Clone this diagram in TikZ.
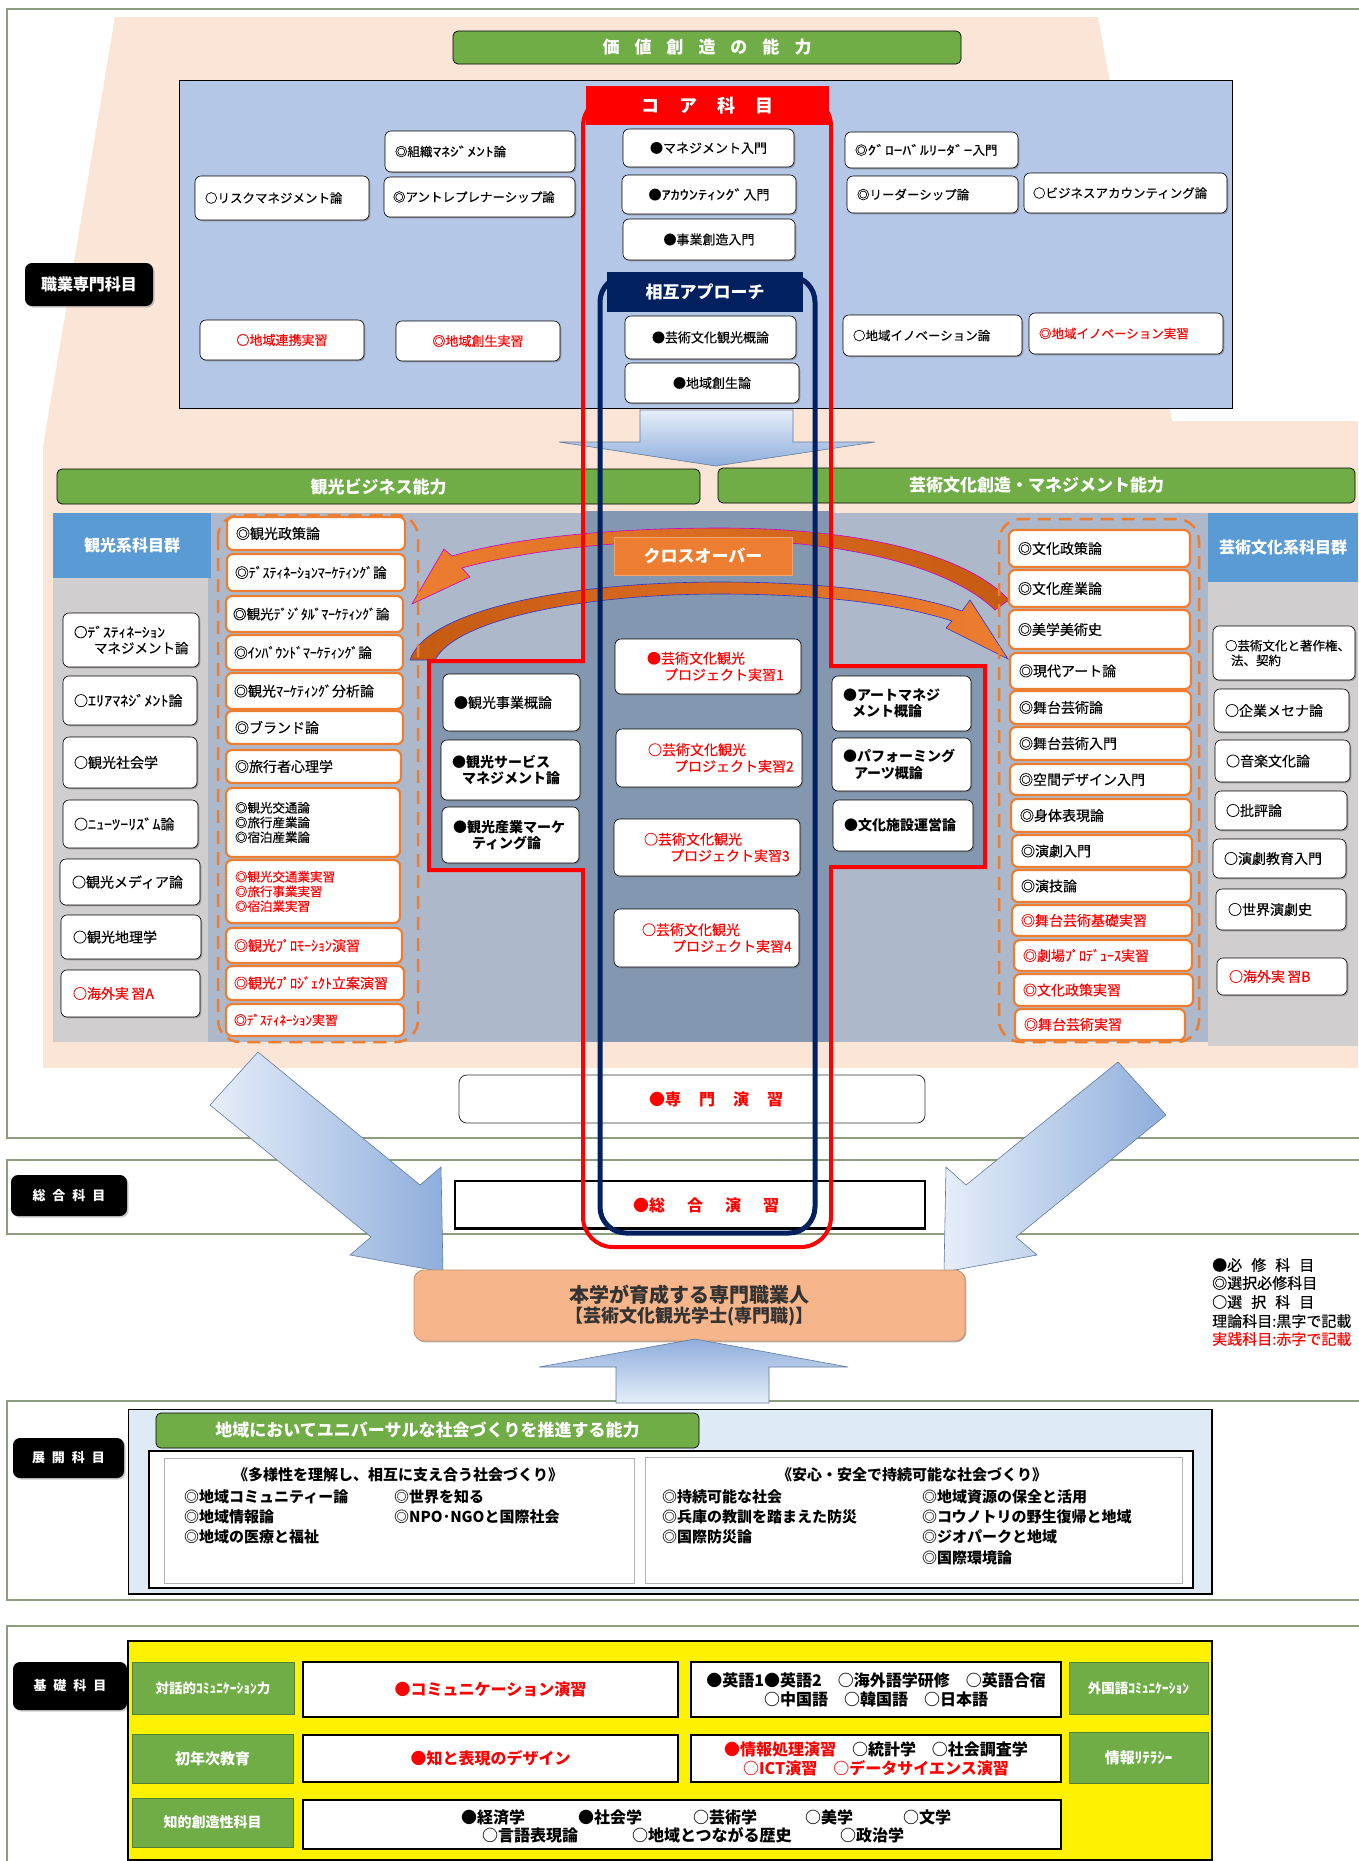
\documentclass[tikz,border=0pt]{standalone}
\usepackage{fontspec}
\setmainfont{Noto Sans CJK JP}[UprightFeatures={FakeBold=0.3}]
\usetikzlibrary{shadows}
\definecolor{peach}{HTML}{FBE5D6}
\definecolor{topblue}{HTML}{B4C7E7}
\definecolor{bgray}{HTML}{ADB9CA}
\definecolor{dgray}{HTML}{8497B0}
\definecolor{lgray}{HTML}{D0CECE}
\definecolor{gbar}{HTML}{70AD47}
\definecolor{bhead}{HTML}{5B9BD5}
\definecolor{oran}{HTML}{ED7D31}
\definecolor{navy}{HTML}{002060}
\definecolor{framec}{HTML}{8C9C7E}
\definecolor{goalc}{HTML}{F6B58A}
\definecolor{pale}{HTML}{DEEBF7}
\definecolor{brn}{HTML}{C55A11}
\definecolor{mag}{HTML}{CC00CC}
\definecolor{arrl}{HTML}{E6EEF9}
\definecolor{arrd}{HTML}{8EAEDC}
\definecolor{darktxt}{HTML}{333333}
\newcommand{\fs}[1]{\fontsize{#1}{\fpeval{#1*1.18}}\selectfont}
\newcommand{\hw}[2][1.4]{\scalebox{#1}[1]{#2}}
\newcommand{\bx}[7]{%
  \pgfmathsetmacro{\bxX}{(#3+#5)/2}\pgfmathsetmacro{\bxY}{(#4+#6)/2}%
  \pgfmathsetmacro{\bxW}{#5-#3}\pgfmathsetmacro{\bxH}{#6-#4}%
  \node[#2, minimum width=\bxW pt, minimum height=\bxH pt] (#1) at (\bxX,\bxY) {#7};}
\newcommand{\bxl}[8][10]{%
  \pgfmathsetmacro{\bxX}{(#4+#6)/2}\pgfmathsetmacro{\bxY}{(#5+#7)/2}%
  \pgfmathsetmacro{\bxT}{#6-#4-2*#1}\pgfmathsetmacro{\bxH}{#7-#5}%
  \node[#3, minimum height=\bxH pt, text width=\bxT pt, inner xsep=#1pt, align=left] (#2) at (\bxX,\bxY) {#8};}
\begin{document}
\begin{tikzpicture}[x=1pt,y=-1pt,
  every node/.style={inner sep=0pt, font=\fs{13}},
  shad/.style={drop shadow={shadow xshift=1.3pt,shadow yshift=-1.3pt,fill=black!55,opacity=0.55}},
  wbox/.style={draw=black, line width=0.6pt, fill=white, rounded corners=6pt, shad},
  obox/.style={draw=oran, line width=2.2pt, fill=white, rounded corners=6pt, font=\fs{14}},
  rt/.style={text=red},
  greenbar/.style={fill=gbar, draw=black, line width=0.7pt, rounded corners=5pt, text=white, font=\fs{17}\bfseries},
  bluehead/.style={fill=bhead, text=white, font=\fs{16}\bfseries},
  blab/.style={fill=black, text=white, rounded corners=7pt, font=\fs{13}\bfseries, drop shadow={shadow xshift=1.5pt,shadow yshift=-1.5pt,fill=black!40}},
  glab/.style={fill=gbar, draw=gbar!75!black, line width=1pt, text=white, font=\fs{14}\bfseries},
  kbox/.style={draw=black, line width=1.6pt, fill=white},
  bigarrow/.style={left color=arrl, right color=arrd, draw=arrd!70!black, line width=0.6pt},
  frameline/.style={draw=framec, line width=1.3pt},
  ogroup/.style={draw=oran, line width=2.5pt, dash pattern=on 13pt off 8pt, rounded corners=22pt},
  txt/.style={font=\fs{15}\bfseries, anchor=west}
]
\useasboundingbox (0,0) rectangle (1358,1861);
\fill[white] (0,0) rectangle (1358,1861);

% ---------- frames ----------
\draw[frameline] (1400,9) -- (7,9) -- (7,1138) -- (1400,1138);
\draw[frameline] (1400,1160) -- (7,1160) -- (7,1234) -- (1400,1234);
\draw[frameline] (1400,1401) -- (7,1401) -- (7,1600) -- (1400,1600);
\draw[frameline] (1400,1626) -- (7,1626) -- (7,1870);

% ---------- peach ----------
\fill[peach] (115,17) -- (1098,17) -- (1172,421) -- (1358,421) -- (1358,1068) -- (43,1068) -- (43,447) -- cycle;

% ---------- top section ----------
\bx{gtop}{greenbar}{453}{31}{961}{64}{価\hspace{15pt}値\hspace{15pt}創\hspace{15pt}造\hspace{15pt}の\hspace{15pt}能\hspace{15pt}力}
\path[fill=topblue, draw=black, line width=0.8pt] (179,80) rectangle (1232,408);

% down arrow below blue box
\path[top color=arrl, bottom color=arrd, draw=arrd!70!black, line width=0.6pt] (640,410) -- (793,410) -- (793,442) -- (875,442) -- (716,466) -- (559,442) -- (640,442) -- cycle;

% green bars middle
\bx{gb1}{greenbar}{57}{469}{700}{504}{観光ビジネス能力}
\bx{gb2}{greenbar}{718}{468}{1355}{503}{芸術文化創造・マネジメント能力}

% gray panels
\fill[lgray] (53,513) rectangle (208,1042);
\fill[bgray] (208,513) rectangle (1208,1042);
\fill[lgray] (1208,513) rectangle (1358,1046);
\fill[dgray] (583,511) rectangle (831,1042);
\fill[dgray] (429,661) rectangle (583,870);
\fill[dgray] (831,666) rectangle (985,867);

% curved arrows
\path[left color=oran, right color=brn, draw=mag, line width=0.6pt]
  (1009,600) .. controls (960,548) and (840,528) .. (720,528)
  .. controls (600,528) and (505,540) .. (452,556) -- (444,549) -- (412,604) -- (470,577) -- (462,568)
  .. controls (520,552) and (610,540) .. (720,540)
  .. controls (830,540) and (945,562) .. (995,610) -- cycle;
\path[left color=brn, right color=oran, draw=blue!60!gray, line width=0.6pt]
  (410,660) .. controls (425,612) and (560,582) .. (720,582)
  .. controls (840,582) and (920,596) .. (962,611) -- (970,600) -- (1008,659) -- (946,628) -- (952,621)
  .. controls (900,604) and (820,594) .. (720,594)
  .. controls (580,594) and (455,620) .. (435,660) -- cycle;

% special exercise boxes (below lines)
\bx{senmon}{draw=black!80, line width=0.8pt, fill=white, rounded corners=8pt}{459}{1075}{925}{1123}{}
\node[font=\fs{16}\bfseries, text=red] (senmont) at (716,1099) {●専\hspace{18pt}門\hspace{18pt}演\hspace{18pt}習};
\bx{sougou}{draw=black, line width=1.3pt, fill=white}{455}{1181}{925}{1228}{}
\draw[line width=2.5pt] (sougou.south west) -- (sougou.south east);
\node[font=\fs{16}\bfseries, text=red] (sougout) at (706,1205) {●総\hspace{22pt}合\hspace{22pt}演\hspace{22pt}習};

% red & navy outlines
\draw[red, line width=4pt] (620,96) [rounded corners=30pt] -- (583,96) -- (583,200) [sharp corners] -- (583,661) -- (429,661) -- (429,870) -- (583,870) -- (583,950) [rounded corners=30pt] -- (583,1247) -- (831,1247) -- (831,1150) [sharp corners] -- (831,867) -- (985,867) -- (985,666) -- (831,666) -- (831,200) [rounded corners=30pt] -- (831,96) -- (795,96);
\draw[navy, line width=5pt, rounded corners=26pt] (640,276) -- (600,276) -- (600,1233) -- (815,1233) -- (815,276) -- (775,276);

% headers on the lines
\bx{core}{fill=red, text=white, font=\fs{18}\bfseries}{586}{86}{829}{125}{コ\hspace{20pt}ア\hspace{20pt}科\hspace{20pt}目}
\bx{sogo}{fill=navy, text=white, font=\fs{17}\bfseries}{607}{272}{803}{312}{相互アプローチ}

% core boxes
\bx{c1}{wbox}{623}{129}{794}{167}{●マネジメント入門}
\bx{c2}{wbox}{622}{175}{796}{214}{●\hw{ｱｶｳﾝﾃｨﾝｸﾞ}入門}
\bx{c3}{wbox}{623}{219}{795}{260}{●事業創造入門}
\bx{c4}{wbox}{625}{316}{796}{359}{●芸術文化観光概論}
\bx{c5}{wbox}{625}{363}{799}{403}{●地域創生論}

% top left boxes
\bxl[10]{l1}{wbox,font=\fs{12.5}}{195}{176}{369}{220}{○リスクマネジメント論}
\bxl[10]{l2}{wbox,font=\fs{12.5}}{385}{131}{575}{172}{◎組織\hw{ﾏﾈｼﾞﾒﾝﾄ}論}
\bxl[9]{l3}{wbox,font=\fs{12.5}}{384}{177}{575}{217}{◎アントレプレナーシップ論}
\bx{l4}{wbox,rt,font=\fs{13}}{200}{320}{364}{360}{○地域連携実習}
\bx{l5}{wbox,rt,font=\fs{13}}{396}{321}{560}{361}{◎地域創生実習}
% top right boxes
\bxl[10]{r1}{wbox,font=\fs{12.5}}{845}{132}{1018}{168}{◎\hw{ｸﾞﾛｰﾊﾞﾙﾘｰﾀﾞｰ}入門}
\bxl[10]{r2}{wbox,font=\fs{12.5}}{847}{176}{1018}{213}{◎リーダーシップ論}
\bxl[9]{r3}{wbox,font=\fs{12.5}}{1024}{173}{1227}{213}{○ビジネスアカウンティング論}
\bxl[10]{r4}{wbox,font=\fs{12.5}}{843}{315}{1022}{356}{○地域イノベーション論}
\bxl[10]{r5}{wbox,rt,font=\fs{12.5}}{1029}{313}{1223}{354}{◎地域イノベーション実習}

% ---------- middle section ----------
\bx{hk}{bluehead}{53}{513}{211}{578}{観光系科目群}
\bx{hg}{bluehead}{1208}{513}{1358}{582}{芸術文化系科目群}
\bx{cross}{fill=oran, draw=oran!70!white, line width=0.6pt, text=white, font=\fs{17}\bfseries}{614}{537}{792}{575}{クロスオーバー}

\draw[ogroup] (218,515) rectangle (418,1042);
\draw[ogroup] (999,519) rectangle (1199,1042);

% left orange column
\bxl[9]{k1}{obox}{227}{517}{405}{550}{◎観光政策論}
\bxl[8]{k2}{obox,font=\fs{13.8}}{227}{554}{405}{591}{◎ﾃﾞｽﾃｨﾈｰｼｮﾝﾏｰｹﾃｨﾝｸﾞ論}
\bxl[7]{k3}{obox,font=\fs{13.6}}{226}{596}{403}{632}{◎観光ﾃﾞｼﾞﾀﾙﾞﾏｰｹﾃｨﾝｸﾞ論}
\bxl[8]{k4}{obox,font=\fs{13.8}}{226}{635}{403}{670}{◎ｲﾝﾊﾞｳﾝﾄﾞﾏｰｹﾃｨﾝｸﾞ論}
\bxl[8]{k5}{obox}{226}{673}{403}{709}{◎観光ﾏｰｹﾃｨﾝｸﾞ分析論}
\bxl[9]{k6}{obox}{226}{711}{403}{744}{◎ブランド論}
\bxl[9]{k7}{obox}{226}{750}{401}{783}{◎旅行者心理学}
\bxl[9]{k8}{obox,font=\fs{12.5}}{226}{788}{400}{857}{◎観光交通論\\◎旅行産業論\\◎宿泊産業論}
\bxl[9]{k9}{obox,rt,font=\fs{12.5}}{226}{860}{400}{923}{◎観光交通業実習\\◎旅行事業実習\\◎宿泊業実習}
\bxl[8]{k10}{obox,rt}{226}{928}{402}{963}{◎観光ﾌﾟﾛﾓｰｼｮﾝ演習}
\bxl[8]{k11}{obox,rt}{226}{966}{404}{1000}{◎観光ﾌﾟﾛｼﾞｪｸﾄ立案演習}
\bxl[8]{k12}{obox,rt,font=\fs{13}}{226}{1004}{404}{1036}{◎ﾃﾞｽﾃｨﾈｰｼｮﾝ実習}

% left ○ column
\bxl[11]{o1}{wbox,font=\fs{13.5}}{63}{613}{199}{667}{○\hw[1.15]{ﾃﾞｽﾃｨﾈｰｼｮﾝ}\\\hspace*{20pt}マネジメント論}
\bxl[11]{o2}{wbox,font=\fs{14}}{63}{676}{197}{725}{○\hw[1.15]{ｴﾘｱﾏﾈｼﾞﾒﾝﾄ}論}
\bxl[11]{o3}{wbox,font=\fs{14}}{63}{737}{197}{788}{○観光社会学}
\bxl[11]{o4}{wbox,font=\fs{14}}{63}{800}{198}{848}{○\hw[1.15]{ﾆｭｰﾂｰﾘｽﾞﾑ}論}
\bxl[12]{o5}{wbox,font=\fs{14}}{60}{859}{200}{905}{○観光メディア論}
\bxl[12]{o6}{wbox,font=\fs{14}}{61}{915}{201}{959}{○観光地理学}
\bxl[12]{o7}{wbox,rt,font=\fs{14}}{61}{970}{200}{1017}{○海外実\,習A}

% red bump left
\bxl[11]{m1}{wbox,font=\fs{14}}{443}{674}{580}{731}{●観光事業概論}
\bxl[11]{m2}{wbox,font=\fs{14}\bfseries}{441}{740}{580}{800}{●観光サービス\\\hspace*{10pt}マネジメント論}
\bxl[11]{m3}{wbox,font=\fs{14}\bfseries}{442}{807}{579}{863}{●観光産業マーケ\\\hspace*{19pt}ティング論}

% center project boxes
\bxl[32]{p1}{wbox,rt,font=\fs{14}}{615}{639}{801}{694}{●芸術文化観光\\\hspace*{17pt}プロジェクト実習1}
\bxl[32]{p2}{wbox,rt,font=\fs{14}}{616}{729}{802}{787}{○芸術文化観光\\\hspace*{26pt}プロジェクト実習2}
\bxl[30]{p3}{wbox,rt,font=\fs{14}}{614}{819}{800}{876}{○芸術文化観光\\\hspace*{26pt}プロジェクト実習3}
\bxl[28]{p4}{wbox,rt,font=\fs{14}}{614}{909}{799}{967}{○芸術文化観光\\\hspace*{30pt}プロジェクト実習4}

% red bump right
\bxl[11]{a1}{wbox,font=\fs{14}\bfseries}{832}{676}{971}{731}{●アートマネジ\\\hspace*{9pt}メント概論}
\bxl[11]{a2}{wbox,font=\fs{14}\bfseries}{832}{738}{971}{791}{●パフォーミング\\\hspace*{11pt}アーツ概論}
\bxl[11]{a3}{wbox,font=\fs{14}\bfseries}{833}{800}{973}{851}{●文化施設運営論}

% right orange column
\bxl[9]{q1}{obox}{1009}{530}{1190}{567}{◎文化政策論}
\bxl[9]{q2}{obox}{1009}{570}{1190}{607}{◎文化産業論}
\bxl[9]{q3}{obox}{1009}{610}{1190}{649}{◎美学美術史}
\bxl[9]{q4}{obox}{1010}{653}{1191}{689}{◎現代アート論}
\bxl[9]{q5}{obox}{1010}{691}{1191}{724}{◎舞台芸術論}
\bxl[9]{q6}{obox}{1010}{727}{1191}{760}{◎舞台芸術入門}
\bxl[9]{q7}{obox}{1010}{764}{1191}{795}{◎空間デザイン入門}
\bxl[9]{q8}{obox}{1011}{799}{1191}{832}{◎身体表現論}
\bxl[9]{q9}{obox}{1012}{835}{1192}{867}{◎演劇入門}
\bxl[9]{q10}{obox}{1012}{870}{1191}{902}{◎演技論}
\bxl[9]{q11}{obox,rt}{1012}{905}{1192}{936}{◎舞台芸術基礎実習}
\bxl[9]{q12}{obox,rt}{1014}{940}{1192}{971}{◎劇場ﾌﾟﾛﾃﾞｭｰｽ実習}
\bxl[9]{q13}{obox,rt}{1014}{974}{1193}{1006}{◎文化政策実習}
\bxl[9]{q14}{obox,rt}{1015}{1009}{1185}{1040}{◎舞台芸術実習}

% right ○ column
\bxl[12]{g1}{wbox,font=\fs{12.5}}{1213}{626}{1355}{680}{○芸術文化と著作権、\\\hspace*{6pt}法、契約}
\bxl[11]{g2}{wbox,font=\fs{14}}{1214}{689}{1349}{732}{○企業メセナ論}
\bxl[11]{g3}{wbox,font=\fs{14}}{1215}{740}{1350}{782}{○音楽文化論}
\bxl[11]{g4}{wbox,font=\fs{14}}{1215}{791}{1347}{830}{○批評論}
\bxl[11]{g5}{wbox,font=\fs{14}}{1213}{839}{1346}{878}{○演劇教育入門}
\bxl[12]{g6}{wbox,font=\fs{14}}{1216}{889}{1346}{930}{○世界演劇史}
\bxl[12]{g7}{wbox,rt,font=\fs{14}}{1217}{958}{1347}{995}{○海外実\,習B}

% ---------- labels ----------
\bx{lab1}{blab,font=\fs{16}\bfseries}{25}{263}{153}{306}{職業専門科目}
\bx{lab2}{blab}{11}{1175}{127}{1216}{総\hspace{7pt}合\hspace{7pt}科\hspace{7pt}目}
\bx{lab3}{blab}{13}{1438}{124}{1478}{展\hspace{7pt}開\hspace{7pt}科\hspace{7pt}目}
\bx{lab4}{blab}{13}{1662}{127}{1710}{基\hspace{7pt}礎\hspace{7pt}科\hspace{7pt}目}

% ---------- big arrows and goal ----------
\path[bigarrow] (258,1052) -- (420,1185) -- (441,1167) -- (443,1272) -- (350,1255) -- (371,1237) -- (210,1105) -- cycle;
\path[bigarrow] (1118,1062) -- (966,1185) -- (946,1167) -- (944,1272) -- (1037,1255) -- (1016,1237) -- (1166,1115) -- cycle;
\bx{goal}{fill=goalc, draw=goalc!80!black, line width=0.8pt, rounded corners=10pt, shad, text=darktxt, align=center}{414}{1270}{965}{1341}{{\fs{20}\bfseries 本学が育成する専門職業人}\\[1pt]{\fs{18}\bfseries 【芸術文化観光学士(専門職)】}}
\path[top color=arrd, bottom color=arrl, draw=arrd!70!black, line width=0.6pt] (616,1403) -- (616,1367) -- (539,1367) -- (695,1339) -- (848,1367) -- (769,1367) -- (769,1403) -- cycle;

% legend
\node[anchor=west, font=\fs{15}] (lg1) at (1212,1265) {●必\hspace{0.6em}修\hspace{0.6em}科\hspace{0.6em}目};
\node[anchor=west, font=\fs{15}] (lg2) at (1212,1283) {◎選択必修科目};
\node[anchor=west, font=\fs{15}] (lg3) at (1212,1302) {○選\hspace{0.6em}択\hspace{0.6em}科\hspace{0.6em}目};
\node[anchor=west, font=\fs{15}] (lg4) at (1212,1321) {理論科目:黒字で記載};
\node[anchor=west, font=\fs{15}, text=red] (lg5) at (1212,1339) {実践科目:赤字で記載};

% ---------- section 3 ----------
\path[fill=pale, draw=black, line width=1pt] (128,1409) rectangle (1212,1594);
\draw[line width=2.5pt] (128,1594) -- (1212,1594) -- (1212,1409);
\bx{gb3}{greenbar}{156}{1413}{699}{1448}{地域においてユニバーサルな社会づくりを推進する能力}
\path[fill=white, draw=black, line width=1.5pt] (149,1451) rectangle (1193,1588);
\draw[black!30, line width=1pt] (164,1458) rectangle (634,1583);
\draw[black!30, line width=1pt] (645,1457) rectangle (1182,1583);
\node[font=\fs{15}\bfseries] (t1) at (398,1475) {《多様性を理解し、相互に支え合う社会づくり》};
\node[txt] (t1a) at (184,1497) {◎地域コミュニティー論};
\node[txt] (t1b) at (184,1517) {◎地域情報論};
\node[txt] (t1c) at (184,1537) {◎地域の医療と福祉};
\node[txt] (t1d) at (394,1497) {◎世界を知る};
\node[txt] (t1e) at (394,1517) {◎NPO･NGOと国際社会};
\node[font=\fs{15}\bfseries] (t2) at (912,1475) {《安心・安全で持続可能な社会づくり》};
\node[txt] (t2a) at (662,1497) {◎持続可能な社会};
\node[txt] (t2b) at (662,1517) {◎兵庫の教訓を踏まえた防災};
\node[txt] (t2c) at (662,1537) {◎国際防災論};
\node[txt] (t2d) at (922,1497) {◎地域資源の保全と活用};
\node[txt] (t2e) at (922,1517) {◎コウノトリの野生復帰と地域};
\node[txt] (t2f) at (922,1537) {◎ジオパークと地域};
\node[txt] (t2g) at (922,1558) {◎国際環境論};

% ---------- section 4 ----------
\path[fill=yellow, draw=black, line width=1.5pt] (128,1641) rectangle (1212,1860);
\bx{f1}{glab,font=\fs{13.5}\bfseries}{132}{1662}{294}{1714}{対話的ｺﾐｭﾆｹｰｼｮﾝ力}
\bx{f2}{glab,font=\fs{15}\bfseries}{132}{1734}{293}{1783}{初年次教育}
\bx{f3}{glab}{132}{1798}{293}{1847}{知的創造性科目}
\bx{f4}{glab,font=\fs{13.5}\bfseries}{1069}{1662}{1208}{1714}{外国語ｺﾐｭﾆｹｰｼｮﾝ}
\bx{f5}{glab,font=\fs{15}\bfseries}{1069}{1732}{1208}{1783}{情報ﾘﾃﾗｼｰ}
\bx{w1}{kbox,rt,font=\fs{16}\bfseries}{303}{1662}{678}{1717}{●コミュニケーション演習}
\bx{w2}{kbox,align=center,font=\fs{16}\bfseries}{691}{1662}{1061}{1717}{●英語1●英語2\hspace{1em}○海外語学研修\hspace{1em}○英語合宿\\○中国語\hspace{1em}○韓国語\hspace{1em}○日本語}
\bx{w3}{kbox,rt,font=\fs{16}\bfseries}{303}{1735}{678}{1782}{●知と表現のデザイン}
\bx{w4}{kbox,align=center,font=\fs{16}\bfseries}{691}{1735}{1061}{1782}{{\color{red}●情報処理演習}\hspace{1em}○統計学\hspace{1em}○社会調査学\\{\color{red}○ICT演習\hspace{1em}○データサイエンス演習}}
\bx{w5}{kbox}{303}{1800}{1061}{1849}{}
\node[txt,font=\fs{16}\bfseries] (e1) at (461,1817) {●経済学};
\node[txt,font=\fs{16}\bfseries] (e2) at (578,1817) {●社会学};
\node[txt,font=\fs{16}\bfseries] (e3) at (693,1817) {○芸術学};
\node[txt,font=\fs{16}\bfseries] (e4) at (805,1817) {○美学};
\node[txt,font=\fs{16}\bfseries] (e5) at (903,1817) {○文学};
\node[txt,font=\fs{16}\bfseries] (e6) at (482,1835) {○言語表現論};
\node[txt,font=\fs{16}\bfseries] (e7) at (632,1835) {○地域とつながる歴史};
\node[txt,font=\fs{16}\bfseries] (e8) at (840,1835) {○政治学};
\end{tikzpicture}
\end{document}
